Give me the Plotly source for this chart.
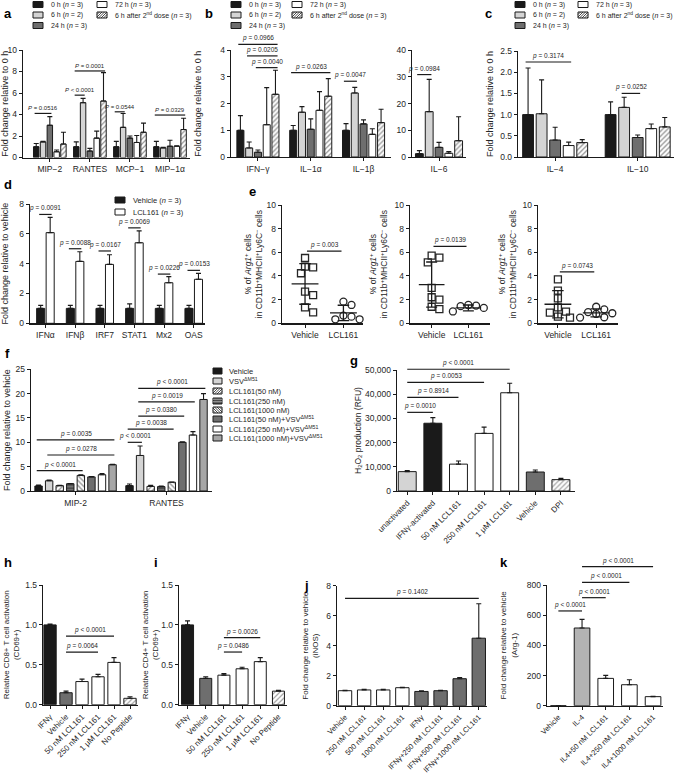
import numpy as np
import plotly.graph_objects as go

W, H = 675, 778
FONT = 'Liberation Sans, Arial, Helvetica, sans-serif'
INK = '#262626'
BLACK = '#1a1a1a'
LIGHT = '#d4d4d4'
DARK = '#6e6e6e'
MID = '#a6a6a6'
WHITE = '#ffffff'

# ---------------- data ----------------
# a / b / c : time course after LCL161
time_names = ['0 h (<i>n</i> = 3)', '6 h (<i>n</i> = 2)', '24 h (<i>n</i> = 3)',
              '72 h (<i>n</i> = 3)', '6 h after 2<sup>nd</sup> dose (<i>n</i> = 3)']

a_cats = ['MIP−2', 'RANTES', 'MCP−1', 'MIP−1α']
a_h0 = [1.0, 1.0, 1.0, 1.0]
a_h0_err = [0.3, 0.45, 0.5, 0.5]
a_h6 = [1.45, 5.1, 2.8, 0.9]
a_h6_err = [0.05, 0.4, 1.3, 0.05]
a_h24 = [3.0, 0.6, 1.8, 1.05]
a_h24_err = [0.8, 0.25, 0.2, 0.55]
a_h72 = [0.53, 1.8, 1.4, 1.05]
a_h72_err = [0.17, 0.65, 0.65, 0.05]
a_h6b = [1.25, 5.25, 2.35, 2.6]
a_h6b_err = [1.1, 2.65, 0.85, 1.05]
a_p = [(0, 0, 2, 4.1, '<i>P</i> = 0.0516'), (1, 0, 1, 5.8, '<i>P</i> < 0.0001'),
       (1, 0, 4, 8.05, '<i>P</i> = 0.0001'), (2, 0, 1, 4.25, '<i>P</i> = 0.0544'),
       (3, 0, 4, 3.95, '<i>P</i> = 0.0329')]

b_cats = ['IFN−γ', 'IL−1α', 'IL−1β']
b_h0 = [1.0, 1.0, 1.0]
b_h0_err = [0.55, 0.18, 0.25]
b_h6 = [0.34, 1.68, 2.4]
b_h6_err = [0.22, 0.21, 0.21]
b_h24 = [0.18, 1.04, 1.24]
b_h24_err = [0.08, 0.39, 0.15]
b_h72 = [1.21, 1.75, 0.85]
b_h72_err = [1.39, 0.7, 0.21]
b_h6b = [2.35, 2.28, 1.29]
b_h6b_err = [0.9, 0.66, 0.5]
b_p = [(0, 0, 4, 4.22, '<i>p</i> = 0.0966'), (0, 1, 4, 3.79, '<i>p</i> = 0.0205'),
       (0, 2, 4, 3.35, '<i>p</i> = 0.0040'), (1, 0, 4, 3.16, '<i>p</i> = 0.0263'),
       (2, 0, 1, 2.84, '<i>p</i> = 0.0047')]

b6_cats = ['IL−6']
b6_vals = [1.25, 17.0, 3.6, 1.4, 6.1]
b6_err = [1.15, 12.1, 1.9, 0.6, 9.0]
b6_p = [(0, 0, 1, 30.9, '<i>p</i> = 0.0984')]

c_cats = ['IL−4', 'IL−10']
c_h0 = [1.0, 1.0]
c_h0_err = [1.1, 0.3]
c_h6 = [1.02, 1.17]
c_h6_err = [0.8, 0.24]
c_h24 = [0.4, 0.46]
c_h24_err = [0.3, 0.06]
c_h72 = [0.27, 0.67]
c_h72_err = [0.08, 0.11]
c_h6b = [0.34, 0.71]
c_h6b_err = [0.07, 0.22]
c_p = [(0, 0, 3, 2.24, '<i>p</i> = 0.3174'), (1, 1, 2, 1.5, '<i>p</i> = 0.0252')]

# d
d_cats = ['IFNα', 'IFNβ', 'IRF7', 'STAT1', 'Mx2', 'OAS']
d_vehicle = [1.0, 1.0, 1.0, 1.0, 1.0, 1.0]
d_vehicle_err = [0.2, 0.2, 0.2, 0.3, 0.2, 0.2]
d_lcl = [6.08, 4.15, 3.95, 5.4, 2.72, 2.95]
d_lcl_err = [1.02, 0.65, 0.65, 0.8, 0.41, 0.4]
d_p_y = [7.3, 5.0, 4.85, 6.4, 3.3, 3.55]
d_p_txt = ['0.0091', '0.0088', '0.0167', '0.0069', '0.0226', '0.0153']

# e
e_cats = ['Vehicle', 'LCL161']
e1_veh = [5.52, 4.79, 4.73, 4.23, 2.68, 2.39, 1.35, 0.93]
e1_lcl = [1.83, 1.55, 0.65, 0.56, 0.34, 0.34]
e2_veh = [5.72, 5.55, 5.15, 3.0, 2.2, 2.0, 1.4, 1.2]
e2_lcl = [1.55, 1.5, 1.45, 1.3, 1.0, 1.0]
e3_veh = [3.72, 2.76, 2.11, 1.35, 0.99, 0.9, 0.56, 0.48]
e3_lcl = [1.4, 1.18, 0.95, 0.85, 0.79, 0.51, 0.48]
e_p = [(6.1, '<i>p</i> = 0.003'), (6.5, '<i>p</i> = 0.0139'), (4.35, '<i>p</i> = 0.0743')]

# f
f_cats = ['MIP-2', 'RANTES']
f_names = ['Vehicle', 'VSV<sup>ΔM51</sup>', 'LCL161(50 nM)', 'LCL161(250 nM)', 'LCL161(1000 nM)',
           'LCL161(50 nM)+VSV<sup>ΔM51</sup>', 'LCL161(250 nM)+VSV<sup>ΔM51</sup>',
           'LCL161(1000 nM)+VSV<sup>ΔM51</sup>']
f_vals = [[1.03, 1.1], [2.1, 7.3], [1.1, 0.95], [1.5, 0.9], [3.2, 1.8],
          [2.9, 10.0], [3.35, 11.5], [5.4, 18.8]]
f_err = [[0.17, 0.35], [0.15, 1.95], [0.05, 0.2], [0.05, 0.1], [0.15, 0.05],
         [0.05, 0.1], [0.25, 0.7], [0.1, 1.2]]
f_p = [(0, 0, 4, 4.2, '<i>p</i> < 0.0001'), (0, 1, 7, 7.4, '<i>p</i> = 0.0278'),
       (0, 0, 7, 10.5, '<i>p</i> = 0.0035'), (1, 0, 1, 10.0, '<i>p</i> < 0.0001'),
       (1, 0, 4, 12.7, '<i>p</i> = 0.0038'), (1, 1, 5, 15.4, '<i>p</i> = 0.0380'),
       (1, 1, 6, 18.3, '<i>p</i> = 0.0019'), (1, 1, 7, 21.1, '<i>p</i> < 0.0001')]

# g
g_cats = ['unactivated', 'IFNγ-activated', '50 nM LCL161', '250 nM LCL161', '1 μM LCL161', 'Vehicle', 'DPI']
g_vals = [8000, 28000, 11100, 23800, 40600, 7850, 4700]
g_err = [500, 2300, 1300, 2600, 3900, 850, 500]
g_p = [(0, 1, 32500, '<i>p</i> = 0.0010'), (0, 2, 38700, '<i>p</i> = 0.8914'),
       (0, 3, 44900, '<i>p</i> = 0.0053'), (0, 4, 50300, '<i>p</i> < 0.0001')]

# h / i
hi_cats = ['IFNγ', 'Vehicle', '50 nM LCL161', '250 nM LCL161', '1 μM LCL161', 'No Peptide']
h_vals = [1.0, 0.15, 0.29, 0.35, 0.53, 0.08]
h_err = [0.01, 0.02, 0.03, 0.03, 0.06, 0.02]
h_p = [(1, 3, 0.66, '<i>p</i> = 0.0064'), (1, 4, 0.86, '<i>p</i> < 0.0001')]
i_vals = [1.0, 0.33, 0.37, 0.45, 0.54, 0.17]
i_err = [0.05, 0.02, 0.02, 0.02, 0.05, 0.01]
i_p = [(2, 3, 0.66, '<i>p</i> = 0.0486'), (2, 4, 0.84, '<i>p</i> = 0.0026')]

# j
j_cats = ['Vehicle', '250 nM LCL161', '500 nM LCL161', '1000 nM LCL161', 'IFNγ',
          'IFNγ+250 nM LCL161', 'IFNγ+500 nM LCL161', 'IFNγ+1000 nM LCL161']
j_vals = [1.0, 1.05, 1.05, 1.2, 0.95, 1.0, 1.8, 4.5]
j_err = [0.02, 0.04, 0.04, 0.02, 0.05, 0.03, 0.08, 2.3]
j_p = [(0, 7, 7.15, '<i>p</i> = 0.1402')]

# k
k_cats = ['Vehicle', 'IL-4', 'IL4+50 nM LCL161', 'IL4+250 nM LCL161', 'IL4+1000 nM LCL161']
k_vals = [1, 515, 181, 139, 60]
k_err = [0, 57, 20, 33, 2]
k_p = [(0, 1, 628, '<i>p</i> < 0.0001'), (1, 2, 716, '<i>p</i> < 0.0001'),
       (1, 3, 818, '<i>p</i> < 0.0001'), (1, 4, 922, '<i>p</i> < 0.0001')]

# ---------------- figure ----------------
fig = go.Figure()
AX = {}
axes_layout = {}
time_style = [(BLACK, '', BLACK), (LIGHT, '', BLACK), (DARK, '', BLACK), (WHITE, '', BLACK), (WHITE, '/', BLACK)]
PSIZE = 6.5


def ref(k):
    return ('x' if k == 1 else f'x{k}'), ('y' if k == 1 else f'y{k}')


def add_axes(k, box, xr, yr, dtick, cats, ytitle='', standoff=2, angle=0, fmt=None, tsize=8.5, ttl=9):
    x0, x1, yt, yb = box
    AX[k] = dict(yr=yr, yt=yt, yb=yb)
    xn = 'xaxis' if k == 1 else f'xaxis{k}'
    yn = 'yaxis' if k == 1 else f'yaxis{k}'
    xref, yref = ref(k)
    common = dict(showline=True, linecolor=BLACK, linewidth=1.3, ticks='outside', ticklen=3,
                  tickwidth=1, tickcolor=BLACK, showgrid=False, zeroline=False, fixedrange=True,
                  automargin=False)
    axes_layout[xn] = dict(common, domain=[x0 / W, x1 / W], anchor=yref, range=xr,
                           tickmode='array', tickvals=list(range(len(cats))), ticktext=cats,
                           tickangle=angle, tickfont=dict(size=tsize, color=INK))
    yax = dict(common, domain=[1 - yb / H, 1 - yt / H], anchor=xref, range=yr, dtick=dtick, tick0=0,
               tickfont=dict(size=8.5, color=INK),
               title=dict(text=ytitle, standoff=standoff, font=dict(size=ttl, color=INK)))
    if fmt:
        yax['tickformat'] = fmt
    axes_layout[yn] = yax


def yp(k, v):
    a = AX[k]
    pix = a['yb'] - (v - a['yr'][0]) / (a['yr'][1] - a['yr'][0]) * (a['yb'] - a['yt'])
    return 1 - pix / H


def pline(k, xa, xb, v, text, size=PSIZE):
    xref, _ = ref(k)
    y = yp(k, v)
    fig.add_shape(type='line', xref=xref, yref='paper', x0=xa, x1=xb, y0=y, y1=y,
                  line=dict(color=BLACK, width=1.2))
    fig.add_annotation(xref=xref, yref='paper', x=(xa + xb) / 2, y=y, text=text, showarrow=False,
                       yanchor='bottom', font=dict(size=size, color=INK))


def err_style(errs):
    return dict(type='data', symmetric=False, array=errs, arrayminus=[0] * len(errs),
                color=BLACK, thickness=1.1, width=2.5)


def grouped(k, ncat, series, gw, inner=0.8):
    n = len(series)
    slot = gw / n
    xref, yref = ref(k)
    for j, (vals, errs, (col, pat, fg)) in enumerate(series):
        xs = [i - gw / 2 + slot * (j + 0.5) for i in range(ncat)]
        fig.add_trace(go.Bar(
            x=xs, y=vals, width=slot * inner, xaxis=xref, yaxis=yref,
            marker=dict(color=col, line=dict(color=BLACK, width=1),
                        pattern=dict(shape=pat, fgcolor=fg, bgcolor=col, size=3.5, solidity=0.35)),
            error_y=err_style(errs), showlegend=False, hoverinfo='skip'))
    return lambda i, j: i - gw / 2 + slot * (j + 0.5)


def single(k, vals, errs, colors, pats, bw):
    xref, yref = ref(k)
    fig.add_trace(go.Bar(
        x=list(range(len(vals))), y=vals, width=bw, xaxis=xref, yaxis=yref,
        marker=dict(color=colors, line=dict(color=BLACK, width=1),
                    pattern=dict(shape=pats, fgcolor=BLACK, bgcolor=WHITE, size=3.5, solidity=0.35)),
        error_y=err_style(errs), showlegend=False, hoverinfo='skip'))


def hatch(x0, y0, x1, y1, kind, step=2.5):
    segs = []
    if kind == '/':
        c = x0 + y0 + step
        while c < x1 + y1:
            xa, xb = max(x0, c - y1), min(x1, c - y0)
            if xb > xa:
                segs.append((xa, c - xa, xb, c - xb))
            c += step
    elif kind == '\\':
        c = x0 - y1 + step
        while c < x1 - y0:
            xa, xb = max(x0, y0 + c), min(x1, y1 + c)
            if xb > xa:
                segs.append((xa, xa - c, xb, xb - c))
            c += step
    elif kind == '-':
        yy = y0 + step / 2
        while yy < y1:
            segs.append((x0, yy, x1, yy))
            yy += step
    return segs


def key(x, y, text, style, w=10, h=6, gap=6, size=7):
    col, pat, fg = style
    x0, x1, y0, y1 = x, x + w, y - h / 2, y + h / 2
    fig.add_shape(type='rect', xref='paper', yref='paper', x0=x0 / W, x1=x1 / W,
                  y0=1 - y1 / H, y1=1 - y0 / H, fillcolor=col, line=dict(color=BLACK, width=1))
    for ax_, ay, bx, by in hatch(x0, y0, x1, y1, pat):
        fig.add_shape(type='line', xref='paper', yref='paper', x0=ax_ / W, x1=bx / W,
                      y0=1 - ay / H, y1=1 - by / H, line=dict(color=fg, width=0.8))
    fig.add_annotation(xref='paper', yref='paper', x=(x1 + gap) / W, y=1 - y / H, text=text,
                       xanchor='left', yanchor='middle', showarrow=False,
                       font=dict(size=size, color=INK))


def time_legend(x1, x2):
    rows = [4.5, 15, 25.5]
    for idx in range(5):
        xx = x1 if idx < 3 else x2
        yy = rows[idx] if idx < 3 else rows[idx - 3]
        key(xx, yy, time_names[idx], time_style[idx])


def letter(x, base, t):
    fig.add_annotation(xref='paper', yref='paper', x=x / W, y=1 - (base - 4.5) / H, text=f'<b>{t}</b>',
                       xanchor='left', yanchor='middle', showarrow=False,
                       font=dict(size=13, color='black'))


def swarm(vals, d=7.2, step=4.0, ppu_y=11.83, ppu_x=38.0):
    placed, offs = [], []
    cands = [0.0]
    for m in range(1, 8):
        cands += [m * step, -m * step]
    for v in vals:
        yv = v * ppu_y
        for c in cands:
            if all((c - px) ** 2 + (yv - py) ** 2 >= d * d for px, py in placed):
                break
        placed.append((c, yv))
        offs.append(c / ppu_x)
    return offs


FOLD0 = 'Fold change relative to 0 h'
FOLDV = 'Fold change relative to vehicle'
ARG = '% of <i>Arg1</i><sup>+</sup> cells<br>in CD11b<sup>+</sup>MHCII<sup>+</sup>Ly6C<sup>−</sup> cells'

# ---- panel a
add_axes(1, (23, 190, 50, 157.5), [-0.67, 3.5], [0, 10], 2, a_cats, FOLD0, standoff=1)
pos = grouped(1, 4, list(zip([a_h0, a_h6, a_h24, a_h72, a_h6b],
                             [a_h0_err, a_h6_err, a_h24_err, a_h72_err, a_h6b_err], time_style)), 0.85)
for i, ja, jb, v, t in a_p:
    pline(1, pos(i, ja) - 0.04, pos(i, jb) + 0.04, v, t, size=6)

# ---- panel b
add_axes(2, (231, 391, 50.3, 157), [-0.51, 2.52], [0, 4], 1, b_cats, FOLD0, standoff=17)
pos = grouped(2, 3, list(zip([b_h0, b_h6, b_h24, b_h72, b_h6b],
                             [b_h0_err, b_h6_err, b_h24_err, b_h72_err, b_h6b_err], time_style)), 0.83)
for i, ja, jb, v, t in b_p:
    pline(2, pos(i, ja) - 0.04, pos(i, jb) + 0.04, v, t)

add_axes(3, (412, 466, 50.3, 157), [-0.49, 0.49], [0, 40], 10, b6_cats)
pos = grouped(3, 1, [([b6_vals[j]], [b6_err[j]], time_style[j]) for j in range(5)], 0.89)
for i, ja, jb, v, t in b6_p:
    pline(3, pos(i, ja) - 0.04, pos(i, jb) + 0.04, v, t)

# ---- panel c
add_axes(4, (518, 674, 51, 157), [-0.45, 1.44], [0, 2.5], 0.5, c_cats, FOLD0, standoff=5, fmt='.1f')
pos = grouped(4, 2, list(zip([c_h0, c_h6, c_h24, c_h72, c_h6b],
                             [c_h0_err, c_h6_err, c_h24_err, c_h72_err, c_h6b_err], time_style)), 0.82)
for i, ja, jb, v, t in c_p:
    pline(4, pos(i, ja) - 0.03, pos(i, jb) + 0.03, v, t)

time_legend(33, 97)
time_legend(231, 292)
time_legend(515, 578)

# ---- panel d
add_axes(5, (30, 205, 204, 323.3), [-0.52, 5.38], [0, 8], 2, d_cats, FOLDV, standoff=9)
pos = grouped(5, 6, [(d_vehicle, d_vehicle_err, (BLACK, '', BLACK)),
                     (d_lcl, d_lcl_err, (WHITE, '', BLACK))], 0.64, inner=0.85)
for i in range(6):
    pline(5, pos(i, 0) - 0.05, pos(i, 1) + 0.05, d_p_y[i], '<i>p</i> = ' + d_p_txt[i])
key(115, 200, 'Vehicle (<i>n</i> = 3)', (BLACK, '', BLACK), size=7.5)
key(115, 212, 'LCL161 (<i>n</i> = 3)', (WHITE, '', BLACK), size=7.5)

# ---- panel e
e_boxes = [(282, 363), (410, 490), (538, 618)]
e_ranges = [[-0.6, 1.51], [-0.59, 1.59], [-0.52, 1.57]]
e_stand = [2, 5, 4]
for n, (veh, lcl) in enumerate([(e1_veh, e1_lcl), (e2_veh, e2_lcl), (e3_veh, e3_lcl)]):
    k = 6 + n
    add_axes(k, (e_boxes[n][0], e_boxes[n][1], 205, 323.3), e_ranges[n], [0, 10], 2, e_cats,
             ARG, standoff=e_stand[n], ttl=8.5)
    xref, yref = ref(k)
    for g, (vals, sym) in enumerate([(veh, 'square-open'), (lcl, 'circle-open')]):
        offs = swarm(vals)
        fig.add_trace(go.Scatter(x=[g + o for o in offs], y=vals, mode='markers', xaxis=xref, yaxis=yref,
                                 marker=dict(symbol=sym, size=7, color=INK, line=dict(width=1.3)),
                                 cliponaxis=False, showlegend=False, hoverinfo='skip'))
        m, s = float(np.mean(vals)), float(np.std(vals, ddof=1))
        lo = max(m - s, 0)
        fig.add_trace(go.Scatter(
            x=[g - 0.35, g + 0.35, None, g, g, None, g - 0.15, g + 0.15, None, g - 0.15, g + 0.15],
            y=[m, m, None, lo, m + s, None, m + s, m + s, None, lo, lo],
            mode='lines', line=dict(color=BLACK, width=1.3), xaxis=xref, yaxis=yref,
            showlegend=False, hoverinfo='skip'))
    pline(k, 0.05, 0.95, e_p[n][0], e_p[n][1])

# ---- panel f
f_style = [(BLACK, '', BLACK), (LIGHT, '', BLACK), (WHITE, '/', BLACK), ('#4d4d4d', '-', '#bdbdbd'),
           (WHITE, '\\', BLACK), (DARK, '', BLACK), (WHITE, '', BLACK), (MID, '', BLACK)]
add_axes(14, (31, 212, 369.3, 491), [-0.49, 1.5], [0, 25], 5, f_cats, FOLDV, standoff=3)
pos = grouped(14, 2, list(zip(f_vals, f_err, f_style)), 0.93, inner=0.7)
for i, ja, jb, v, t in f_p:
    pline(14, pos(i, ja) - 0.02, pos(i, jb) + 0.02, v, t)
for n, name in enumerate(f_names):
    key(213, [371, 381, 391, 401, 410, 419, 429, 438][n], name, f_style[n], w=9, h=6, gap=5, size=7.5)

# ---- panel g
add_axes(9, (397, 575, 370, 491), [-0.4, 6.55], [0, 50000], 10000, g_cats,
         'H<sub>2</sub>O<sub>2</sub> production (RFU)', standoff=2, angle=-45, fmt=',d', tsize=8, ttl=8.5)
single(9, g_vals, g_err, [LIGHT, BLACK, WHITE, WHITE, WHITE, DARK, WHITE], ['', '', '', '', '', '', '/'], 0.7)
for ia, ib, v, t in g_p:
    pline(9, ia, ib, v, t)

# ---- panel h
add_axes(10, (43, 138, 585, 704.7), [-0.44, 5.5], [0, 1.5], 0.5, hi_cats,
         'Relative CD8+ T cell activation<br>(CD69+)', standoff=4, angle=-45, fmt='.1f', tsize=8, ttl=8)
single(10, h_vals, h_err, [BLACK, DARK, WHITE, WHITE, WHITE, WHITE], ['', '', '', '', '', '/'], 0.77)
for ia, ib, v, t in h_p:
    pline(10, ia, ib, v, t)

# ---- panel i
add_axes(11, (179, 287, 585, 704.7), [-0.47, 5.47], [0, 1.5], 0.5, hi_cats,
         'Relative CD4+ T cell activation<br>(CD69+)', standoff=1, angle=-45, fmt='.1f', tsize=8, ttl=8)
single(11, i_vals, i_err, [BLACK, DARK, WHITE, WHITE, WHITE, WHITE], ['', '', '', '', '', '/'], 0.66)
for ia, ib, v, t in i_p:
    pline(11, ia, ib, v, t)

# ---- panel j
add_axes(12, (337, 487, 585.7, 705.7), [-0.42, 7.43], [0, 8], 2, j_cats,
         'Fold change relative to vehicle<br>(iNOS)', standoff=6, angle=-45, tsize=7.5, ttl=8)
single(12, j_vals, j_err, [WHITE] * 4 + [DARK] * 4, [''] * 8, 0.7)
for ia, ib, v, t in j_p:
    pline(12, ia, ib, v, t)

# ---- panel k
add_axes(13, (547, 663, 585, 705.7), [-0.48, 4.42], [0, 800], 200, k_cats,
         'Fold change relative to vehicle<br>(Arg-1)', standoff=8, angle=-45, tsize=7.5, ttl=8)
single(13, k_vals, k_err, [WHITE, '#b3b3b3', WHITE, WHITE, WHITE], [''] * 5, 0.66)
for ia, ib, v, t in k_p:
    pline(13, ia, ib, v, t)

# panel letters
for x, base, t in [(2, 18, 'a'), (203, 18, 'b'), (483, 18, 'c'), (2, 189, 'd'), (247, 196, 'e'),
                   (3, 358, 'f'), (348, 365, 'g'), (2, 567, 'h'), (152, 567, 'i'), (302, 590, 'j'),
                   (498, 567, 'k')]:
    letter(x, base, t)

fig.update_layout(width=W, height=H, margin=dict(l=0, r=0, t=0, b=0, autoexpand=False),
                  paper_bgcolor='white', plot_bgcolor='white', showlegend=False, barmode='overlay',
                  font=dict(family=FONT, size=8.5, color=INK), **axes_layout)

fig.write_html("out.html", config={'displayModeBar': False, 'staticPlot': True},
               post_script="document.body.style.margin='0';")
